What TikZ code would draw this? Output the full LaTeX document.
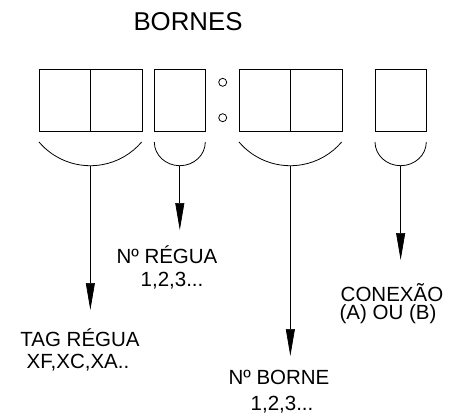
\documentclass[tikz,border=0pt]{standalone}
\usepackage{fontspec}
\setmainfont{Liberation Sans}
\usetikzlibrary{arrows.meta}
\begin{document}
\begin{tikzpicture}[x=1pt,y=1pt,
  cell/.style={draw=black,line width=0.8pt,minimum height=62.3pt,inner sep=0pt,anchor=north west},
  hole/.style={draw=black,line width=0.8pt,circle,minimum size=8pt,inner sep=0pt},
  bowl/.style={draw=black,line width=0.8pt},
  pointer/.style={draw=black,line width=0.7pt,-{Triangle[width=9pt,length=27pt]}},
  lbl/.style={anchor=base,inner sep=0pt,font=\fontsize{20.5}{24}\selectfont},
  ttl/.style={anchor=base,inner sep=0pt,font=\fontsize{25.8}{30}\selectfont}]
\useasboundingbox (0,0) rectangle (450,-418);
% title
\node[ttl] (title) at (188,-30) {BORNES};
% boxes
\node[cell,minimum width=51.35pt] (b1l) at (39,-68.7) {};
\node[cell,minimum width=51.35pt] (b1r) at (90.35,-68.7) {};
\node[cell,minimum width=51pt] (b2) at (154.3,-68.7) {};
\node[cell,minimum width=51.35pt] (b3l) at (239,-68.7) {};
\node[cell,minimum width=51.35pt] (b3r) at (290.35,-68.7) {};
\node[cell,minimum width=51.3pt] (b4) at (375,-68.7) {};
% colon circles
\node[hole] (c1) at (222.7,-82.3) {};
\node[hole] (c2) at (222.7,-117.7) {};
% bowls
\draw[bowl] (39,-142) arc[start angle=220.4,end angle=319.6,radius=67.4];
\draw[bowl] (154.3,-142) arc[start angle=180,end angle=360,x radius=25.5,y radius=23.7];
\draw[bowl] (239,-142) arc[start angle=220.4,end angle=319.6,radius=67.4];
\draw[bowl] (375,-142) arc[start angle=180,end angle=360,x radius=25.65,y radius=23.7];
% arrow ends
\coordinate (s1) at (90.35,-165.8);
\coordinate (e1) at (90.35,-310);
\coordinate (s2) at (179.8,-165.7);
\coordinate (e2) at (179.8,-230);
\coordinate (s3) at (290.35,-165.8);
\coordinate (e3) at (290.35,-356);
\coordinate (s4) at (400.65,-165.7);
\coordinate (e4) at (400.65,-260);
\draw[pointer] (s1) -- (e1);
\draw[pointer] (s2) -- (e2);
\draw[pointer] (s3) -- (e3);
\draw[pointer] (s4) -- (e4);
% labels
\node[lbl] (r1) at (167,-263) {Nº RÉGUA};
\node[lbl] (r2) at (172,-286.7) {1,2,3...};
\node[lbl] (t1) at (80,-346.7) {TAG RÉGUA};
\node[lbl] (t2) at (78,-368.3) {XF,XC,XA..};
\node[lbl] (n1) at (279,-384) {Nº BORNE};
\node[lbl] (n2) at (282,-410) {1,2,3...};
\node[lbl] (k1) at (392,-301.7) {CONEXÃO};
\node[lbl] (k2) at (388,-319) {(A) OU (B)};
\end{tikzpicture}
\end{document}
